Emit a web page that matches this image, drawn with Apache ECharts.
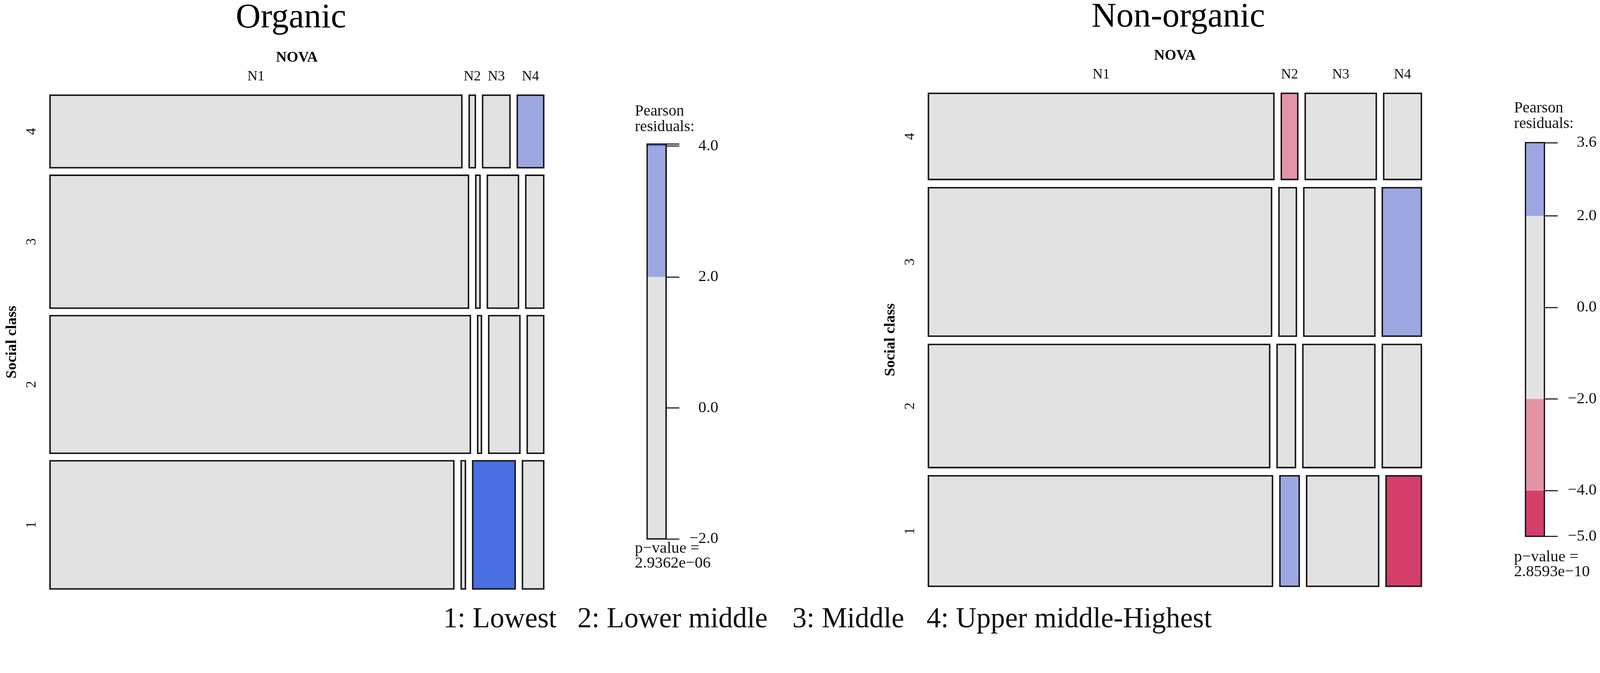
<!DOCTYPE html>
<html>
<head>
<meta charset="utf-8">
<title>NOVA by social class - mosaic plots</title>
<script src="https://cdn.jsdelivr.net/npm/echarts@6.0.0/dist/echarts.min.js"></script>
<style>
  html, body { margin: 0; padding: 0; background: #fff; overflow: hidden; }
  #chart { width: 100vw; height: 100vh; }
</style>
</head>
<body>
<div id="chart"></div>
<script>
// factor levels
const socialClasses = ['1', '2', '3', '4'];
const novaGroups = ['N1', 'N2', 'N3', 'N4'];
const classKey = ['1: Lowest', '2: Lower middle', '3: Middle', '4: Upper middle-Highest'];
const panelTitles = ['Organic', 'Non-organic'];

// Organic: % of sample in each social class (1..4), % of N1..N4 inside each class, Pearson residuals
const organicClassShare = [27.2, 29.2, 28.2, 15.4];
const organicNovaShare = [
  [85.6, 0.9, 9.0, 4.5],
  [89.1, 0.8, 6.6, 3.5],
  [88.7, 0.9, 6.6, 3.8],
  [87.3, 1.3, 5.8, 5.6]
];
const organicResiduals = [
  [-1.9, -0.1, 4.03, 0.3],
  [0.5, -0.4, -0.6, -1.0],
  [0.3, -0.1, -0.5, -0.6],
  [-0.3, 0.8, -1.0, 2.9]
];

// Non-organic
const nonOrganicClassShare = [23.6, 26.3, 31.7, 18.4];
const nonOrganicNovaShare = [
  [73.1, 4.1, 15.3, 7.5],
  [72.5, 3.9, 15.3, 8.3],
  [72.9, 3.7, 15.1, 8.3],
  [73.4, 3.5, 15.1, 8.0]
];
const nonOrganicResiduals = [
  [0.5, 2.4, 0.2, -5.0],
  [-0.6, 0.4, 0.3, 1.1],
  [-0.3, -0.3, -0.2, 3.6],
  [0.4, -2.6, -0.1, 0.2]
];

// residual legends
const organicLegendRange = [-2.0, 4.03];
const organicLegendTicks = [-2, 0, 2, 4];
const nonOrganicLegendRange = [-5.0, 3.6];
const nonOrganicLegendTicks = [-5, -4, -2, 0, 2, 3.6];
const pValues = ['2.9362e\u221206', '2.8593e\u221210'];

const SERIF = '"Liberation Serif", "Times New Roman", serif';

// layout is measured on a 4317 x 1724 page and scaled to whatever the viewport is
const dom = document.getElementById('chart');
const s = Math.min(dom.clientWidth / 4317, dom.clientHeight / 1724);
const px = v => v * s;
const font = (size, bold) => (bold ? 'bold ' : '') + px(size) + 'px ' + SERIF;

function shade(r) {
  if (r > 4) return '#4A6FE3';
  if (r > 2) return '#9DA8E2';
  if (r < -4) return '#D33F6A';
  if (r < -2) return '#E495A5';
  return '#E2E2E2';
}

// tiles: [x0, x1, y0, y1, residual, classIdx, novaIdx]
function tiles(classShare, novaShare, residuals, gapX, gapY) {
  const out = [];
  let y = 0;
  classShare.forEach((h, r) => {
    let x = 0;
    novaShare[r].forEach((w, c) => {
      out.push([x, x + w, y, y + h, residuals[r][c], r, c]);
      x += w + gapX;
    });
    y += h + gapY;
  });
  return out;
}

function legendBands(range) {
  const cuts = [-Infinity, -4, -2, 2, 4, Infinity];
  const out = [];
  for (let i = 0; i < cuts.length - 1; i++) {
    const lo = Math.max(cuts[i], range[0]);
    const hi = Math.min(cuts[i + 1], range[1]);
    if (hi > lo) out.push([lo, hi, (lo + hi) / 2]);
  }
  return out;
}

function fmt(v) {
  return (v < 0 ? '\u2212' : '') + Math.abs(v).toFixed(1);
}

const panels = [
  {
    title: panelTitles[0], titleX: 785, titleY: 49,
    classShare: organicClassShare, novaShare: organicNovaShare, residuals: organicResiduals,
    grid: { left: 135, top: 257, width: 1332, height: 1333 }, gapX: 1.55, gapY: 1.6,
    legendRange: organicLegendRange, legendTicks: organicLegendTicks, pValue: pValues[0],
    legendGrid: { left: 1746, top: 389, width: 51, height: 1066 },
    legendTextX: 1713, pearsonY: 302, pY: 1481
  },
  {
    title: panelTitles[1], titleX: 3179, titleY: 47,
    classShare: nonOrganicClassShare, novaShare: nonOrganicNovaShare, residuals: nonOrganicResiduals,
    grid: { left: 2505, top: 252, width: 1330, height: 1331 }, gapX: 1.575, gapY: 1.77,
    legendRange: nonOrganicLegendRange, legendTicks: nonOrganicLegendTicks, pValue: pValues[1],
    legendGrid: { left: 4116, top: 385, width: 51, height: 1063 },
    legendTextX: 4085, pearsonY: 294, pY: 1504
  }
];
const classKeyX = [1196, 1558, 2138, 2500];

function scaledBox(b) {
  return { left: px(b.left), top: px(b.top), width: px(b.width), height: px(b.height) };
}

const grids = [], xAxes = [], yAxes = [], series = [], graphics = [];

panels.forEach((p, i) => {
  grids.push(scaledBox(p.grid));
  xAxes.push({ gridIndex: i, type: 'value', min: 0, max: 100 + 3 * p.gapX, show: false });
  yAxes.push({ gridIndex: i, type: 'value', min: 0, max: 100 + 3 * p.gapY, show: false });
  series.push({
    type: 'custom',
    xAxisIndex: i, yAxisIndex: i,
    clip: false,
    data: tiles(p.classShare, p.novaShare, p.residuals, p.gapX, p.gapY),
    renderItem(params, api) {
      const tl = api.coord([api.value(0), api.value(3)]);
      const br = api.coord([api.value(1), api.value(2)]);
      const r = api.value(5), c = api.value(6);
      const kids = [{
        type: 'rect',
        shape: { x: tl[0], y: tl[1], width: br[0] - tl[0], height: br[1] - tl[1] },
        style: { fill: shade(api.value(4)), stroke: '#161616', lineWidth: px(4) }
      }];
      if (r === socialClasses.length - 1) {
        kids.push({
          type: 'text', x: (tl[0] + br[0]) / 2, y: tl[1] - px(50),
          style: { text: novaGroups[c], font: font(38), fill: '#111', align: 'center', verticalAlign: 'middle' }
        });
      }
      if (c === 0) {
        kids.push({
          type: 'text', x: tl[0] - px(49), y: (tl[1] + br[1]) / 2, rotation: Math.PI / 2,
          style: { text: socialClasses[r], font: font(38), fill: '#111', align: 'center', verticalAlign: 'middle' }
        });
      }
      return { type: 'group', children: kids };
    }
  });

  graphics.push(
    { type: 'text', x: px(p.titleX), y: px(p.titleY),
      style: { text: p.title, font: font(93), fill: '#000', align: 'center', verticalAlign: 'middle' } },
    { type: 'text', x: px(p.grid.left + p.grid.width / 2), y: px(p.grid.top - 101),
      style: { text: 'NOVA', font: font(40, true), fill: '#000', align: 'center', verticalAlign: 'middle' } },
    { type: 'text', x: px(p.grid.left - 102), y: px(p.grid.top + p.grid.height / 2), rotation: Math.PI / 2,
      style: { text: 'Social class', font: font(41, true), fill: '#000', align: 'center', verticalAlign: 'middle' } },
    { type: 'text', x: px(p.legendTextX), y: px(p.pearsonY + 20),
      style: { text: 'Pearson\nresiduals:', font: font(42), lineHeight: px(42), fill: '#111', align: 'left', verticalAlign: 'middle' } },
    { type: 'text', x: px(p.legendTextX), y: px(p.pY + 20),
      style: { text: 'p\u2212value =\n' + p.pValue, font: font(43), lineHeight: px(40), fill: '#111', align: 'left', verticalAlign: 'middle' } }
  );
});

// residual colour bars
panels.forEach((p, i) => {
  const gi = 2 + i;
  grids.push(scaledBox(p.legendGrid));
  xAxes.push({ gridIndex: gi, type: 'value', min: 0, max: 1, show: false });
  const tickVals = p.legendTicks.slice();
  if (tickVals.indexOf(p.legendRange[1]) < 0) tickVals.push(p.legendRange[1]);
  yAxes.push({
    gridIndex: gi, type: 'value', position: 'right',
    min: p.legendRange[0], max: p.legendRange[1],
    splitLine: { show: false },
    axisLine: { show: true, onZero: false, lineStyle: { color: '#000', width: px(3) } },
    axisTick: { show: true, inside: false, length: px(36), customValues: tickVals, lineStyle: { color: '#000', width: px(2.5) } },
    axisLabel: {
      show: true, customValues: p.legendTicks, margin: px(141), align: 'right',
      formatter: fmt, fontSize: px(43), fontFamily: SERIF, color: '#111'
    }
  });
  series.push({
    type: 'custom', xAxisIndex: gi, yAxisIndex: gi, clip: false,
    data: legendBands(p.legendRange),
    renderItem(params, api) {
      const tl = api.coord([0, api.value(1)]);
      const br = api.coord([1, api.value(0)]);
      return { type: 'rect', shape: { x: tl[0], y: tl[1], width: br[0] - tl[0], height: br[1] - tl[1] },
        style: { fill: shade(api.value(2)) } };
    }
  });
  series.push({
    type: 'custom', xAxisIndex: gi, yAxisIndex: gi, clip: false, z: 3,
    data: [[p.legendRange[0], p.legendRange[1]]],
    renderItem(params, api) {
      const tl = api.coord([0, api.value(1)]);
      const br = api.coord([1, api.value(0)]);
      return { type: 'rect', shape: { x: tl[0], y: tl[1], width: br[0] - tl[0], height: br[1] - tl[1] },
        style: { fill: 'none', stroke: '#111', lineWidth: px(3.5) } };
    }
  });
});

classKey.forEach((label, k) => {
  graphics.push({
    type: 'text', x: px(classKeyX[k]), y: px(1673),
    style: { text: label, font: font(77), fill: '#111', align: 'left', verticalAlign: 'middle' }
  });
});

const chart = echarts.init(dom);
chart.setOption({
  backgroundColor: '#fff',
  animation: false,
  grid: grids,
  xAxis: xAxes,
  yAxis: yAxes,
  series: series,
  graphic: graphics
});
</script>
</body>
</html>
